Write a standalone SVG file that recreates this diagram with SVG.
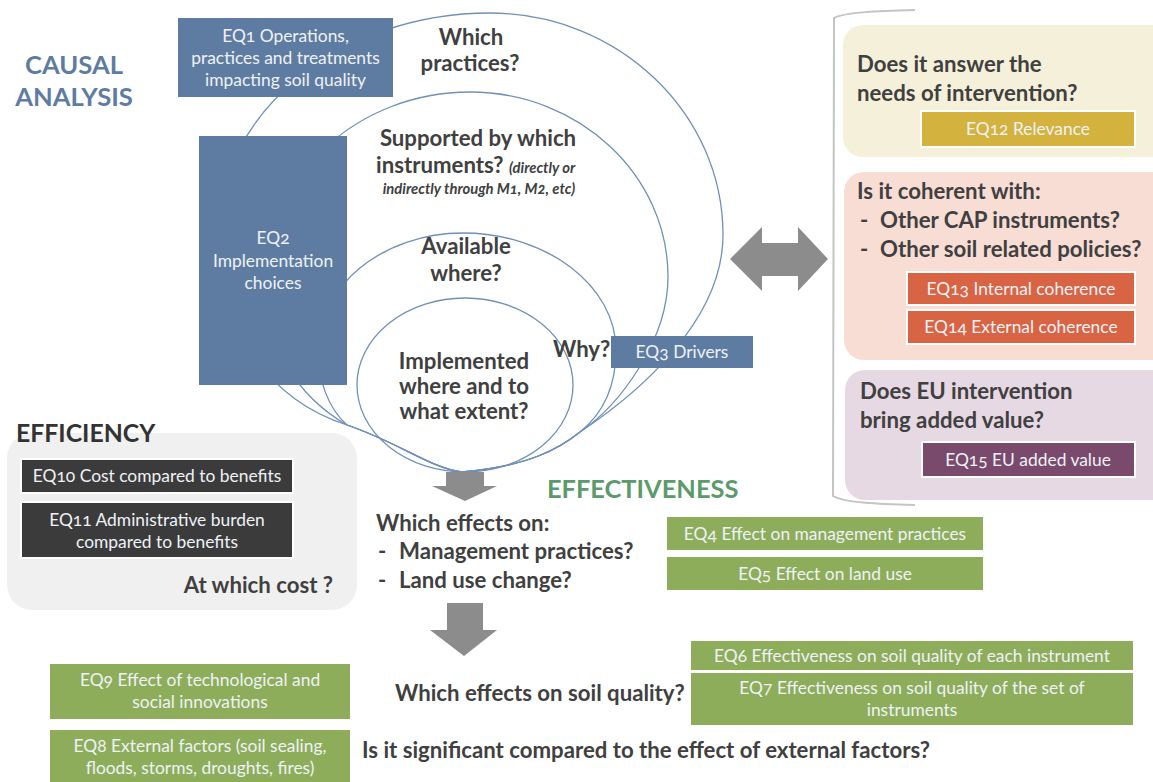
<svg xmlns="http://www.w3.org/2000/svg" width="1153" height="782" viewBox="0 0 1153 782">
<style>
  text { font-family: Lato, "Open Sans", "Liberation Sans", sans-serif; font-variant-numeric: oldstyle-nums; }
  .q { font-weight: bold; font-size: 22.2px; fill: #404040; }
  .qi { font-weight: bold; font-style: italic; font-size: 14.8px; fill: #404040; }
  .bt { font-size: 17.4px; fill: #eef2f7; text-anchor: middle; }
  .c { text-anchor: middle; }
  .blue { fill: #5e7ca2; }
  .ring { fill: none; stroke: #7090b8; stroke-width: 1.3; }
  .wb { stroke: #ffffff; stroke-width: 2; }
  .arrow { fill: #8c8c8c; }
  .title { font-weight: bold; font-size: 25.6px; }
</style>

<g id="rings">
  <path class="ring" d="M462,472 C530,466 560,448 580,432 C640,392 723,320 723,235 C723,113 618,13 490,13 C340,13 218,113 218,235 C218,330 270,400 347,425 C400,443 430,468 462,472"/>
  <path class="ring" d="M462,472 C530,466 560,448 580,432 C620,405 668,340 668,277 C668,175 579,92 470,92 C358,92 266,176 266,280 C266,345 295,395 347,425 C400,443 430,468 462,472"/>
  <path class="ring" d="M462,472 C530,466 560,448 580,432 C605,412 616,385 616,350 C616,286 547,233 463,233 C383,233 318,286 318,350 C318,380 328,408 347,425 C400,443 430,468 462,472"/>
  <ellipse class="ring" cx="465" cy="385" rx="108" ry="87"/>
</g>

<g id="causal-title">
  <text class="title blue c" x="74" y="74">CAUSAL</text>
  <text class="title blue c" x="74" y="106">ANALYSIS</text>
</g>

<g id="eq1">
  <rect x="178" y="18" width="215" height="79" fill="#5e7ca2"/>
  <text class="bt" x="285.5" y="42">EQ1 Operations,</text>
  <text class="bt" x="285.5" y="64">practices and treatments</text>
  <text class="bt" x="285.5" y="86">impacting soil quality</text>
</g>

<g id="eq2">
  <rect x="199" y="136" width="148" height="249" fill="#5e7ca2"/>
  <text class="bt" x="273" y="244">EQ2</text>
  <text class="bt" x="273" y="267">Implementation</text>
  <text class="bt" x="273" y="289">choices</text>
</g>

<g id="q-practices">
  <text class="q c" x="471" y="45">Which</text>
  <text class="q c" x="470" y="71">practices?</text>
</g>

<g id="q-instruments">
  <text class="q c" x="478" y="146">Supported by which</text>
  <text class="q" x="376" y="173">instruments? <tspan class="qi">(directly or</tspan></text>
  <text class="qi c" x="479" y="194">indirectly through M1, M2, etc)</text>
</g>

<g id="q-available">
  <text class="q c" x="466" y="254">Available</text>
  <text class="q c" x="466" y="281">where?</text>
</g>

<g id="q-implemented">
  <text class="q c" x="464" y="369">Implemented</text>
  <text class="q c" x="464" y="394">where and to</text>
  <text class="q c" x="464" y="419">what extent?</text>
</g>

<g id="eq3">
  <text class="q" x="553" y="357">Why?</text>
  <rect x="611" y="336" width="142" height="32" fill="#5e7ca2"/>
  <text class="bt" x="682" y="358">EQ3 Drivers</text>
</g>

<g id="right-bracket">
  <path d="M915,10 C880,11 845,12 834,18 L833,496 C845,503 880,504 915,505" fill="none" stroke="#c4c4c4" stroke-width="2"/>
</g>

<g id="relevance">
  <rect x="843" y="25" width="330" height="132" rx="20" fill="#f5f0da"/>
  <text class="q" x="857" y="72">Does it answer the</text>
  <text class="q" x="857" y="101">needs of intervention?</text>
  <rect class="wb" x="921" y="111" width="214" height="36" fill="#d3b33d"/>
  <text class="bt" x="1028" y="135">EQ12 Relevance</text>
</g>

<g id="coherence">
  <rect x="844" y="172" width="330" height="188" rx="20" fill="#f8ddd5"/>
  <text class="q" x="857" y="199">Is it coherent with:</text>
  <text class="q" x="860" y="228">-</text>
  <text class="q" x="880" y="228">Other CAP instruments?</text>
  <text class="q" x="860" y="257">-</text>
  <text class="q" x="880" y="257">Other soil related policies?</text>
  <rect class="wb" x="907" y="272" width="228" height="33" fill="#d96444"/>
  <text class="bt" x="1021" y="295">EQ13 Internal coherence</text>
  <rect class="wb" x="907" y="310" width="228" height="34" fill="#d96444"/>
  <text class="bt" x="1021" y="333">EQ14 External coherence</text>
</g>

<g id="added-value">
  <rect x="845" y="370" width="330" height="130" rx="20" fill="#e6d9e3"/>
  <text class="q" x="860" y="399">Does EU intervention</text>
  <text class="q" x="860" y="428">bring added value?</text>
  <rect class="wb" x="922" y="442" width="213" height="35" fill="#7a4a6c"/>
  <text class="bt" x="1028" y="466">EQ15 EU added value</text>
</g>

<g id="efficiency">
  <rect x="7" y="433" width="350" height="177" rx="25" fill="#f0f0f0"/>
  <text x="16" y="442" font-weight="bold" font-size="24.8" fill="#333333">EFFICIENCY</text>
  <rect class="wb" x="21" y="459" width="272" height="34" fill="#3b3b3b"/>
  <text class="bt" x="157" y="482">EQ10 Cost compared to benefits</text>
  <rect class="wb" x="21" y="502" width="272" height="56" fill="#3b3b3b"/>
  <text class="bt" x="157" y="526">EQ11 Administrative burden</text>
  <text class="bt" x="157" y="548">compared to benefits</text>
  <text class="q" x="333" y="593" text-anchor="end">At which cost ?</text>
</g>

<g id="effectiveness-title">
  <text x="547" y="498" font-weight="bold" font-size="25.4" fill="#5c9a6c">EFFECTIVENESS</text>
</g>

<g id="q-effects">
  <text class="q" x="376" y="531">Which effects on:</text>
  <text class="q" x="378" y="559">-</text>
  <text class="q" x="399" y="559">Management practices?</text>
  <text class="q" x="378" y="588">-</text>
  <text class="q" x="399" y="588">Land use change?</text>
</g>

<g id="eq4">
  <rect x="667" y="517" width="316" height="33" fill="#8dad5b"/>
  <text class="bt" x="825" y="540">EQ4 Effect on management practices</text>
</g>
<g id="eq5">
  <rect x="667" y="557" width="316" height="33" fill="#8dad5b"/>
  <text class="bt" x="825" y="580">EQ5 Effect on land use</text>
</g>

<g id="eq6">
  <rect x="691" y="641" width="442" height="29" fill="#8dad5b"/>
  <text class="bt" x="912" y="662">EQ6 Effectiveness on soil quality of each instrument</text>
</g>
<g id="eq7">
  <rect x="691" y="673" width="442" height="52" fill="#8dad5b"/>
  <text class="bt" x="912" y="694">EQ7 Effectiveness on soil quality of the set of</text>
  <text class="bt" x="912" y="716">instruments</text>
</g>
<g id="q-soil">
  <text class="q" x="395" y="701">Which effects on soil quality?</text>
</g>
<g id="eq9">
  <rect x="50" y="664" width="300" height="55" fill="#8dad5b"/>
  <text class="bt" x="200" y="686">EQ9 Effect of technological and</text>
  <text class="bt" x="200" y="708">social innovations</text>
</g>
<g id="eq8">
  <rect x="50" y="730" width="300" height="52" fill="#8dad5b"/>
  <text class="bt" x="200" y="752">EQ8 External factors (soil sealing,</text>
  <text class="bt" x="200" y="774">floods, storms, droughts, fires)</text>
</g>
<g id="q-significant">
  <text class="q" x="362" y="758">Is it significant compared to the effect of external factors?</text>
</g>

<g id="connectors">
  <polygon class="arrow" points="730,259 762,227 762,243 798,243 798,227 828,259 798,291 798,276 762,276 762,291"/>
  <polygon class="arrow" points="446,472 484,472 484,486 497,486 465,501 432,486 446,486"/>
  <polygon class="arrow" points="447,603 483,603 483,630 497,630 464,656 430,630 447,630"/>
</g>
</svg>
